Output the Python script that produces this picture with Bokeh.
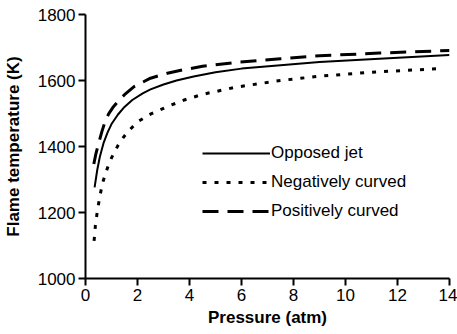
from bokeh.plotting import figure
from bokeh.models import Range1d, FixedTicker, Legend, LegendItem
from bokeh.embed import file_html
from bokeh.resources import INLINE

# Data
opposed_p = [0.35, 0.45, 0.55, 0.70, 0.85, 1.0, 1.25, 1.5, 1.8, 2.2, 2.5, 3.0, 3.5, 4.16, 5.0, 6.0, 7.5, 9.0, 11.3, 14.0]
opposed_t = [1276, 1328, 1368, 1412, 1443, 1468, 1497, 1520, 1541, 1561, 1573, 1588, 1600, 1612, 1625, 1636, 1646, 1656, 1666, 1677]

negative_p = [0.33, 0.38, 0.44, 0.50, 0.56, 0.65, 0.76, 0.88, 1.01, 1.24, 1.45, 1.65, 2.03, 2.5, 3.15, 3.8, 4.5, 5.8, 7.5, 9.0, 11.0, 13.6]
negative_t = [1114, 1160, 1195, 1225, 1252, 1287, 1316, 1343, 1367, 1402, 1427, 1447, 1476, 1498, 1521, 1541, 1558, 1580, 1600, 1613, 1625, 1636]

positive_p = [0.32, 0.40, 0.48, 0.63, 0.75, 0.89, 1.05, 1.24, 1.5, 1.88, 2.5, 3.15, 3.8, 4.5, 5.8, 7.5, 9.0, 11.3, 14.0]
positive_t = [1347, 1378, 1402, 1445, 1475, 1499, 1518, 1536, 1557, 1582, 1607, 1622, 1633, 1643, 1655, 1666, 1675, 1683, 1691]

x_ticks = [0, 2, 4, 6, 8, 10, 12, 14]
y_ticks = [1000, 1200, 1400, 1600, 1800]

labels = ["Opposed jet", "Negatively curved", "Positively curved"]

FONT = "Liberation Sans"

p = figure(width=457, height=334, output_backend="svg", toolbar_location=None,
           x_range=Range1d(0, 14), y_range=Range1d(1000, 1800),
           min_border_left=81, min_border_right=8, min_border_top=14, min_border_bottom=56)

p.outline_line_color = None
p.xgrid.visible = False
p.ygrid.visible = False
p.background_fill_color = "white"
p.border_fill_color = "white"

r1 = p.line(opposed_p, opposed_t, line_color="black", line_width=2)
r2 = p.line(negative_p, negative_t, line_color="black", line_width=3, line_dash="4 8")
r3 = p.line(positive_p, positive_t, line_color="black", line_width=3, line_dash="16 9")

for ax, ticks in ((p.xaxis[0], x_ticks), (p.yaxis[0], y_ticks)):
    ax.ticker = FixedTicker(ticks=ticks)
    ax.axis_line_width = 2
    ax.axis_line_color = "black"
    ax.major_tick_line_width = 2
    ax.major_tick_line_color = "black"
    ax.major_tick_out = 7
    ax.major_tick_in = 0
    ax.minor_tick_line_color = None
    ax.major_label_text_font = FONT
    ax.major_label_text_font_size = "17px"
    ax.major_label_text_color = "black"
    ax.major_label_standoff = 3
    ax.axis_label_text_font = FONT
    ax.axis_label_text_font_size = "17px"
    ax.axis_label_text_font_style = "bold"
    ax.axis_label_text_color = "black"

p.xaxis.axis_label = "Pressure (atm)"
p.yaxis.axis_label = "Flame temperature (K)"
p.xaxis.axis_label_standoff = 4
p.yaxis.axis_label_standoff = 12

legend = Legend(items=[LegendItem(label=labels[0], renderers=[r1]),
                       LegendItem(label=labels[1], renderers=[r2]),
                       LegendItem(label=labels[2], renderers=[r3])],
                location=(117, 57), orientation="vertical",
                glyph_width=68, glyph_height=20, label_height=20, label_standoff=1,
                spacing=9, padding=0, margin=0,
                label_text_font=FONT, label_text_font_size="17px", label_text_color="black",
                border_line_color=None, background_fill_alpha=0)
p.add_layout(legend)

open("out.html", "w").write(file_html(p, INLINE))
